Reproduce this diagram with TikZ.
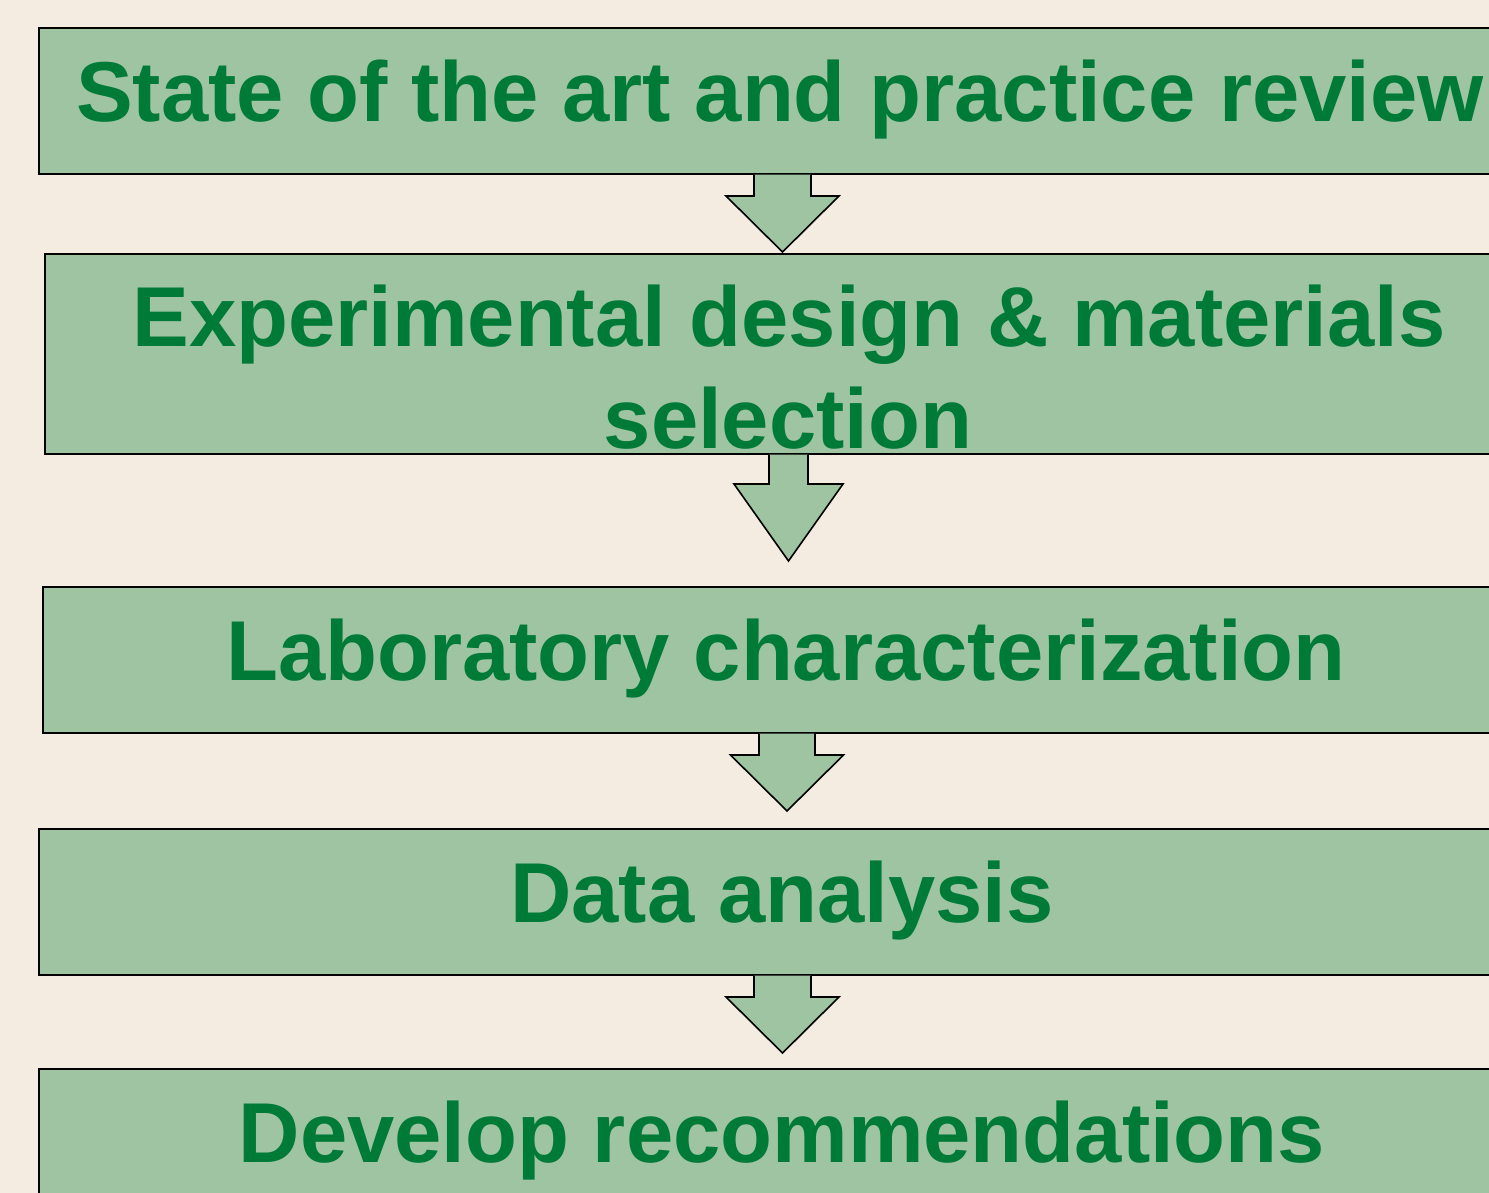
\documentclass[tikz,border=0pt]{standalone}
\usepackage{fontspec}
\setmainfont{Liberation Sans}
\usetikzlibrary{calc}
\definecolor{pagebg}{HTML}{F5ECE1}
\definecolor{boxfill}{HTML}{9FC4A2}
\definecolor{boxtext}{HTML}{007A37}
\tikzset{
  stagebox/.style={draw=black, line width=1.6pt, fill=boxfill, rectangle,
    anchor=north west, inner sep=0pt, minimum width=1500pt},
  stagelabel/.style={anchor=base, inner sep=0pt, text=boxtext,
    font=\fontsize{85}{100}\selectfont\bfseries},
  flowarrow/.style={draw=black, line width=1.6pt, fill=boxfill, line join=miter},
}
% block arrow: from box #1 towards box #2, centre x #3, shaft half width #4,
% head half width #5, y of the head base #6, gap left above box #2 #7
\newcommand{\stagearrow}[7]{%
  \draw[flowarrow]
    (#3-#4,0 |- #1.south) -- (#3-#4,#6) -- (#3-#5,#6) --
    ($(#3,0 |- #2.north)+(0,-#7)$) -- (#3+#5,#6) -- (#3+#4,#6) --
    (#3+#4,0 |- #1.south);
}
\begin{document}
\begin{tikzpicture}[x=1pt,y=-1pt]
  \useasboundingbox (0,0) rectangle (1489,1193);
  \fill[pagebg] (0,0) rectangle (1489,1193);
  \clip (0,0) rectangle (1489,1193);

  % stage boxes
  \node[stagebox, minimum height=146pt] (b1) at (38,27) {};
  \node[stagebox, minimum height=200pt] (b2) at (44,253) {};
  \node[stagebox, minimum height=146pt] (b3) at (42,586) {};
  \node[stagebox, minimum height=146pt] (b4) at (38,828) {};
  \node[stagebox, minimum height=160pt] (b5) at (38,1068) {};

  % arrows between stages
  \stagearrow{b1}{b2}{782.5}{28.5}{56.5}{196}{1}
  \stagearrow{b2}{b3}{788.5}{19.5}{54.5}{484}{25}
  \stagearrow{b3}{b4}{787}{28}{56.5}{755}{17}
  \stagearrow{b4}{b5}{782.5}{28.5}{56.5}{997}{15}

  % stage labels
  \node[stagelabel] (t1) at (780,122) {State of the art and practice review};
  \node[stagelabel] (t2a) at (789,346) {Experimental design \& materials};
  \node[stagelabel] (t2b) at (788,448) {selection};
  \node[stagelabel] (t3) at (786,680) {Laboratory characterization};
  \node[stagelabel] (t4) at (782,922) {Data analysis};
  \node[stagelabel] (t5) at (782,1162) {Develop recommendations};
\end{tikzpicture}
\end{document}
